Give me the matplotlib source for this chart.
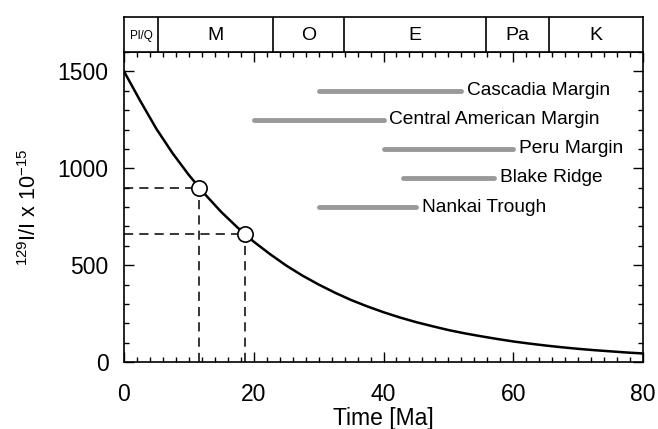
import matplotlib
matplotlib.use("Agg")
import matplotlib.pyplot as plt
from matplotlib.ticker import MultipleLocator

plt.rcParams['font.family'] = ['Liberation Sans', 'DejaVu Sans']
plt.rcParams['mathtext.fontset'] = 'custom'
plt.rcParams['mathtext.rm'] = 'Liberation Sans'

# decay curve
time_ma = [0, 2.5, 5, 7.5, 10, 12.5, 15, 17.5, 20, 22.5, 25, 27.5, 30, 32.5, 35, 37.5,
           40, 42.5, 45, 47.5, 50, 52.5, 55, 57.5, 60, 62.5, 65, 67.5, 70, 72.5, 75, 77.5, 80]
ratio = [1500, 1348, 1203, 1077, 965, 865, 774, 694, 621, 557, 498, 446, 400, 358, 320, 287,
         257, 230, 206, 185, 165, 148, 133, 119, 106, 95, 85, 76, 68, 61, 55, 49, 44]

# marked points
pt_time = [11.6, 18.6]
pt_ratio = [900, 663]

# site age ranges
sites = ["Cascadia Margin", "Central American Margin", "Peru Margin", "Blake Ridge", "Nankai Trough"]
site_start = [30, 20, 40, 43, 30]
site_end = [52, 40, 60, 57, 45]
site_level = [1400, 1250, 1100, 950, 800]

# geologic periods
periods = ["Pl/Q", "M", "O", "E", "Pa", "K"]
period_bounds = [0, 5.3, 23.0, 33.9, 55.8, 65.5, 80]

fig = plt.figure(figsize=(6.58, 4.29), dpi=100)
L, R = 124 / 658, 643 / 658
bot, top = 1 - 362 / 429, 1 - 52 / 429
stop = 1 - 17 / 429
ax = fig.add_axes([L, bot, R - L, top - bot])
axs = fig.add_axes([L, top, R - L, stop - top])

ax.plot(time_ma, ratio, color='black', lw=1.8, zorder=3)
for t, r in zip(pt_time, pt_ratio):
    ax.plot([0, t], [r, r], color='black', lw=1.1, ls=(0, (6, 4)), zorder=2)
    ax.plot([t, t], [0, r], color='black', lw=1.1, ls=(0, (6, 4)), zorder=2)
ax.plot(pt_time, pt_ratio, 'o', ms=11, mfc='white', mec='black', mew=1.2, zorder=4)

for name, s, e, y in zip(sites, site_start, site_end, site_level):
    ax.plot([s, e], [y, y], color='#999999', lw=3.5, solid_capstyle='round', zorder=2)
    ax.text(e + 0.9, y, name, fontsize=13.8, va='center', ha='left')

ax.set_xlim(0, 80)
ax.set_ylim(0, 1600)
ax.xaxis.set_major_locator(MultipleLocator(20))
ax.xaxis.set_minor_locator(MultipleLocator(2))
ax.yaxis.set_major_locator(MultipleLocator(500))
ax.yaxis.set_minor_locator(MultipleLocator(100))
ax.set_yticks([0, 500, 1000, 1500])
ax.tick_params(which='both', direction='in', top=True, right=True, width=1.0)
ax.tick_params(which='major', length=7)
ax.tick_params(which='minor', length=3.5)
ax.tick_params(axis='x', which='major', labelsize=16.5, pad=15)
ax.tick_params(axis='y', which='major', labelsize=16.5, pad=11)
for sp in ax.spines.values():
    sp.set_linewidth(1.2)
ax.set_xlabel("Time [Ma]", fontsize=16.5, labelpad=0.5)
ax.set_ylabel(r"$^{129}$I/I x 10$^{-15}$", fontsize=15.5, labelpad=12)

axs.set_xlim(0, 80)
axs.set_ylim(0, 1)
axs.set_xticks([])
axs.set_yticks([])
for sp in axs.spines.values():
    sp.set_linewidth(1.2)
for i, name in enumerate(periods):
    a, b = period_bounds[i], period_bounds[i + 1]
    if i > 0:
        axs.axvline(a, color='black', lw=1.2)
    fs = 8.5 if name == "Pl/Q" else 14
    axs.text((a + b) / 2, 0.47, name, ha='center', va='center', fontsize=fs)

fig.savefig("out.png", dpi=100)
